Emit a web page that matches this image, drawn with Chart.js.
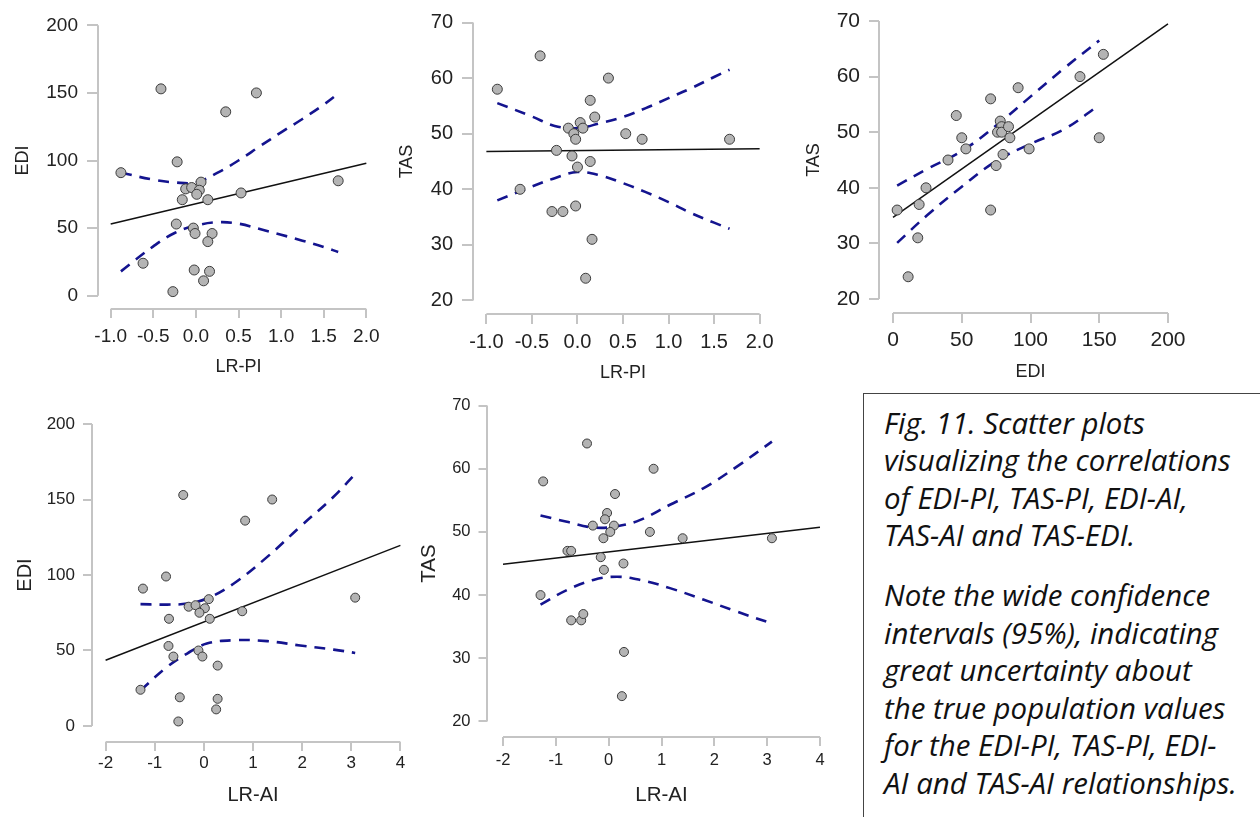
<!DOCTYPE html>
<html>
<head>
<meta charset="utf-8">
<script src="https://cdn.jsdelivr.net/npm/chart.js@4.4.1/dist/chart.umd.min.js"></script>
<style>
  body { margin: 0; background: #fff; width: 1260px; height: 817px; overflow: hidden; position: relative; }
  canvas { position: absolute; }
  #caption {
    position: absolute; left: 863px; top: 393px; width: 420px; height: 440px;
    border: 1.5px solid #444; box-sizing: border-box; padding: 10.5px 0 0 20px;
    font-family: "Open Sans"; font-style: italic; color: #111; line-height: 37.5px; font-size: 24.5px;
  }
  #caption p { margin: 0 0 22.5px 0; white-space: nowrap; }
</style>
</head>
<body>
<canvas id="c1"></canvas>
<canvas id="c2"></canvas>
<canvas id="c3"></canvas>
<canvas id="c4"></canvas>
<canvas id="c5"></canvas>
<div id="caption"><p>Fig. 11. Scatter plots<br>visualizing the correlations<br>of EDI-PI, TAS-PI, EDI-AI,<br>TAS-AI and TAS-EDI.</p><p>Note the wide confidence<br>intervals (95%), indicating<br>great uncertainty about<br>the true population values<br>for the EDI-PI, TAS-PI, EDI-<br>AI and TAS-AI relationships.</p></div>
<script>
// ---- data ----
// EDI vs LR-PI
const ediPiX = [-0.88, -0.41, 0.71, 0.35, -0.22, 1.67, 0.06, -0.12, -0.05, 0.04, 0.01, 0.53, -0.16, 0.14, -0.23, -0.03, -0.01, 0.19, 0.14, -0.62, -0.02, 0.16, 0.09, -0.27];
const ediPiY = [91, 153, 150, 136, 99, 85, 84, 79, 80, 78, 75, 76, 71, 71, 53, 50, 46, 46, 40, 24, 19, 18, 11, 3];
const ediPiFitX = [-1, 2];
const ediPiFitY = [53, 98];
const ediPiBandX = [-0.88, -0.5, -0.25, 0, 0.25, 0.5, 0.75, 1, 1.25, 1.5, 1.67];
const ediPiUpper = [91, 85.8, 83.8, 83.8, 90.8, 100, 110.5, 120.8, 130.7, 141.3, 149.4];
const ediPiLower = [18, 36.5, 46.4, 51.8, 54.3, 53.3, 49.3, 45.1, 40.7, 36, 32.3];

// TAS vs LR-PI
const tasPiX = [-0.88, -0.41, 0.34, 0.14, 0.19, 0.03, -0.1, 0.06, -0.04, -0.02, 0.53, 0.71, 1.67, -0.23, -0.06, 0.14, 0.0, -0.63, -0.28, -0.16, -0.02, 0.16, 0.09];
const tasPiY = [58, 64, 60, 56, 53, 52, 51, 51, 50, 49, 50, 49, 49, 47, 46, 45, 44, 40, 36, 36, 37, 31, 24];
const tasPiFitX = [-1, 2];
const tasPiFitY = [46.8, 47.3];
const tasPiBandX = [-0.88, -0.5, -0.25, 0, 0.25, 0.5, 0.75, 1, 1.25, 1.5, 1.67];
const tasPiUpper = [55.5, 53.1, 51.4, 51.0, 51.9, 53.0, 54.6, 56.4, 58.2, 60.2, 61.5];
const tasPiLower = [38.0, 40.5, 42.0, 43.1, 42.5, 41.1, 39.5, 37.7, 35.7, 34.0, 32.9];

// TAS vs EDI
const tasEdiX = [3, 11, 18, 19, 24, 40, 46, 50, 53, 71, 71, 75, 78, 79, 76, 79, 80, 84, 85, 91, 99, 136, 150, 153];
const tasEdiY = [36, 24, 31, 37, 40, 45, 53, 49, 47, 56, 36, 44, 52, 51, 50, 50, 46, 51, 49, 58, 47, 60, 49, 64];
const tasEdiFitX = [0, 200];
const tasEdiFitY = [34.7, 69.5];
const tasEdiBandX = [3, 25, 50, 75, 100, 125, 150];
const tasEdiUpper = [40.4, 43.4, 46.6, 51.2, 56.4, 61.6, 66.5];
const tasEdiLower = [30.1, 35.1, 40.2, 44.8, 47.9, 50.6, 54.9];

// EDI vs LR-AI
const ediAiX = [-1.24, -0.42, 1.39, 0.84, -0.77, 3.08, 0.1, -0.31, -0.17, 0.02, -0.09, 0.78, -0.71, 0.12, -0.72, -0.11, -0.03, -0.62, 0.28, -1.29, -0.49, 0.28, 0.25, -0.52];
const ediAiY = [91, 153, 150, 136, 99, 85, 84, 79, 80, 78, 75, 76, 71, 71, 53, 50, 46, 46, 40, 24, 19, 18, 11, 3];
const ediAiFitX = [-2, 4];
const ediAiFitY = [43.5, 119.6];
const ediAiBandX = [-1.29, -0.75, -0.34, 0.06, 0.61, 1.29, 1.96, 2.64, 3.08];
const ediAiUpper = [80.7, 80.4, 81.1, 84.4, 94.4, 112, 132, 151.8, 166.9];
const ediAiLower = [23.6, 39.1, 48, 54.6, 56.8, 56.2, 53.3, 50.6, 48.4];

// TAS vs LR-AI
const tasAiX = [-1.24, -0.41, 0.85, 0.12, -0.03, -0.07, -0.3, 0.1, 0.03, -0.1, 0.78, 1.4, 3.09, -0.78, -0.71, -0.15, 0.28, -0.09, -1.29, -0.71, -0.52, -0.48, 0.29, 0.25];
const tasAiY = [58, 64, 60, 56, 53, 52, 51, 51, 50, 49, 50, 49, 49, 47, 47, 46, 45, 44, 40, 36, 36, 37, 31, 24];
const tasAiFitX = [-2, 4];
const tasAiFitY = [44.9, 50.75];
const tasAiBandX = [-1.29, -0.79, -0.29, 0.16, 0.6, 1.16, 1.79, 2.42, 3.09];
const tasAiUpper = [52.6, 51.6, 50.7, 50.9, 51.9, 54.3, 56.9, 60.3, 64.3];
const tasAiLower = [38.5, 40.8, 42.4, 42.9, 42.4, 41.1, 39.3, 37.4, 35.5];

// tick labels
const piTicks = [-1, -0.5, 0, 0.5, 1, 1.5, 2];
const aiTicks = [-2, -1, 0, 1, 2, 3, 4];
const ediTicks = [0, 50, 100, 150, 200];
const tasTicks = [20, 30, 40, 50, 60, 70];

// ---- drawing ----
const axisGray = '#c4c4c4';
const textCol = '#222';
const fontFam = '"Liberation Sans", Arial, sans-serif';

const zip = (xs, ys) => xs.map((x, i) => ({ x: x, y: ys[i] }));

// JASP-like detached axis lines, only from first to last tick
const axisLines = {
  id: 'axisLines',
  afterDraw(chart) {
    const { ctx, chartArea } = chart;
    const x = chart.scales.x, y = chart.scales.y;
    ctx.save();
    ctx.strokeStyle = axisGray;
    ctx.lineWidth = 2;
    ctx.beginPath();
    ctx.moveTo(x.getPixelForValue(x.ticks[0].value), chartArea.bottom);
    ctx.lineTo(x.getPixelForValue(x.ticks[x.ticks.length - 1].value), chartArea.bottom);
    ctx.moveTo(chartArea.left, y.getPixelForValue(y.ticks[0].value));
    ctx.lineTo(chartArea.left, y.getPixelForValue(y.ticks[y.ticks.length - 1].value));
    ctx.stroke();
    ctx.restore();
  }
};

function makePanel(id, p) {
  const padTop = 14, padRight = 12;
  const cv = document.getElementById(id);
  cv.width = p.yWidth + (p.right - p.left) + padRight;
  cv.height = padTop + (p.bottom - p.top) + p.xHeight;
  cv.style.left = (p.left - p.yWidth) + 'px';
  cv.style.top = (p.top - padTop) + 'px';

  const fmt = v => p.decimals ? v.toFixed(1) : String(v);

  new Chart(cv, {
    type: 'scatter',
    data: {
      datasets: [
        { data: zip(p.xs, p.ys), order: 0, pointRadius: p.r, pointBackgroundColor: '#b4b4b4',
          pointBorderColor: '#3c3c3c', pointBorderWidth: 1 },
        { data: zip(p.fitX, p.fitY), order: 1, showLine: true, pointRadius: 0,
          borderColor: '#111', borderWidth: 1.5 },
        { data: zip(p.bandX, p.upper), order: 2, showLine: true, pointRadius: 0, tension: 0.4,
          borderColor: '#14148f', borderWidth: 2.6, borderDash: [11, 8] },
        { data: zip(p.bandX, p.lower), order: 2, showLine: true, pointRadius: 0, tension: 0.4,
          borderColor: '#14148f', borderWidth: 2.6, borderDash: [11, 8] }
      ]
    },
    options: {
      responsive: false,
      animation: false,
      events: [],
      layout: { padding: { left: 0, top: padTop, right: padRight, bottom: 0 } },
      plugins: { legend: { display: false }, tooltip: { enabled: false } },
      scales: {
        x: {
          type: 'linear', min: p.xMin, max: p.xMax,
          afterBuildTicks: s => { s.ticks = p.xTicks.map(v => ({ value: v })); },
          afterFit: s => { s.height = p.xHeight; s.paddingLeft = 0; s.paddingRight = 0; },
          border: { display: false },
          grid: { drawOnChartArea: false, drawTicks: true, tickLength: p.xTl, color: axisGray, lineWidth: 2 },
          ticks: { color: textCol, font: { family: fontFam, size: p.tickSize }, padding: p.xPad,
                   maxRotation: 0, autoSkip: false, callback: v => fmt(v) },
          title: { display: true, text: p.xTitle, color: textCol, padding: 0,
                   font: { family: fontFam, size: p.titleSize } }
        },
        y: {
          type: 'linear', min: p.yMin, max: p.yMax,
          afterBuildTicks: s => { s.ticks = p.yTicks.map(v => ({ value: v })); },
          afterFit: s => { s.width = p.yWidth; s.paddingTop = 0; s.paddingBottom = 0; },
          border: { display: false },
          grid: { drawOnChartArea: false, drawTicks: true, tickLength: p.yTl, color: axisGray, lineWidth: 2 },
          ticks: { color: textCol, font: { family: fontFam, size: p.tickSize }, padding: p.yPad,
                   autoSkip: false, callback: v => String(v) },
          title: { display: true, text: p.yTitle, color: textCol, padding: 0,
                   font: { family: fontFam, size: p.titleSize } }
        }
      }
    },
    plugins: [axisLines]
  });
}

makePanel('c1', {
  xs: ediPiX, ys: ediPiY, fitX: ediPiFitX, fitY: ediPiFitY, bandX: ediPiBandX, upper: ediPiUpper, lower: ediPiLower,
  xTicks: piTicks, yTicks: ediTicks, decimals: true, xTitle: 'LR-PI', yTitle: 'EDI',
  xMin: -1.149, xMax: 2.149, yMin: -9.85, yMax: 209.85,
  left: 98, right: 379, top: 12, bottom: 309, yWidth: 86, xHeight: 69,
  tickSize: 19, titleSize: 18, yTl: 11, yPad: 9, xTl: 9, xPad: 7, r: 5
});
makePanel('c2', {
  xs: tasPiX, ys: tasPiY, fitX: tasPiFitX, fitY: tasPiFitY, bandX: tasPiBandX, upper: tasPiUpper, lower: tasPiLower,
  xTicks: piTicks, yTicks: tasTicks, decimals: true, xTitle: 'LR-PI', yTitle: 'TAS',
  xMin: -1.147, xMax: 2.147, yMin: 17.57, yMax: 72.43,
  left: 473, right: 773, top: 9, bottom: 314, yWidth: 77, xHeight: 70,
  tickSize: 20, titleSize: 18, yTl: 11, yPad: 9, xTl: 10, xPad: 6, r: 5
});
makePanel('c3', {
  xs: tasEdiX, ys: tasEdiY, fitX: tasEdiFitX, fitY: tasEdiFitY, bandX: tasEdiBandX, upper: tasEdiUpper, lower: tasEdiLower,
  xTicks: ediTicks, yTicks: tasTicks, decimals: false, xTitle: 'EDI', yTitle: 'TAS',
  xMin: -10.2, xMax: 210.2, yMin: 17.48, yMax: 72.52,
  left: 879, right: 1182, top: 7, bottom: 313, yWidth: 76, xHeight: 70,
  tickSize: 21, titleSize: 18, yTl: 10, yPad: 9, xTl: 10, xPad: 5, r: 5
});
makePanel('c4', {
  xs: ediAiX, ys: ediAiY, fitX: ediAiFitX, fitY: ediAiFitY, bandX: ediAiBandX, upper: ediAiUpper, lower: ediAiLower,
  xTicks: aiTicks, yTicks: ediTicks, decimals: false, xTitle: 'LR-AI', yTitle: 'EDI',
  xMin: -2.277, xMax: 4.277, yMin: -10.6, yMax: 210.6,
  left: 92, right: 414, top: 408, bottom: 742, yWidth: 79, xHeight: 65,
  tickSize: 17, titleSize: 20, yTl: 9, yPad: 8, xTl: 9, xPad: 2, r: 4.5
});
makePanel('c5', {
  xs: tasAiX, ys: tasAiY, fitX: tasAiFitX, fitY: tasAiFitY, bandX: tasAiBandX, upper: tasAiUpper, lower: tasAiLower,
  xTicks: aiTicks, yTicks: tasTicks, decimals: false, xTitle: 'LR-AI', yTitle: 'TAS',
  xMin: -2.303, xMax: 4.303, yMin: 17.53, yMax: 72.47,
  left: 487, right: 836, top: 390, bottom: 737, yWidth: 70, xHeight: 71,
  tickSize: 16.5, titleSize: 20.5, yTl: 8.5, yPad: 8, xTl: 9, xPad: 4.5, r: 4.5
});

// fit caption font so the widest line spans the same width as in the figure
const mctx = document.createElement('canvas').getContext('2d');
mctx.font = 'italic 100px "Open Sans"';
const wLine = mctx.measureText('AI and TAS-AI relationships.').width;
document.getElementById('caption').style.fontSize = (100 * 353 / wLine).toFixed(2) + 'px';
</script>
</body>
</html>
